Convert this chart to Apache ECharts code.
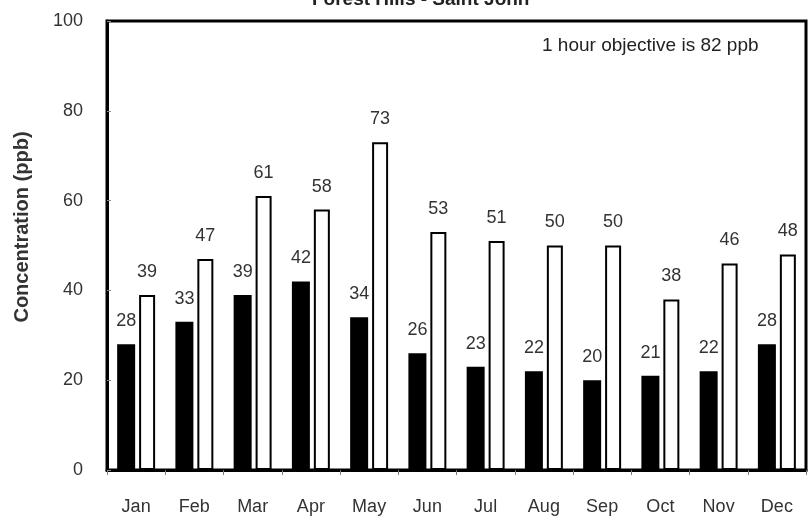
<!DOCTYPE html>
<html><head><meta charset="utf-8">
<script src="https://cdn.jsdelivr.net/npm/echarts@6/dist/echarts.min.js"></script>
<style>html,body{margin:0;padding:0;background:#fff}#c{width:811px;height:523px}</style>
</head><body><div id="c"></div>
<script>
var months = ['Jan','Feb','Mar','Apr','May','Jun','Jul','Aug','Sep','Oct','Nov','Dec'];
var seriesA = [28,33,39,42,34,26,23,22,20,21,22,28];
var seriesB = [39,47,61,58,73,53,51,50,50,38,46,48];
var yTicks = [0,20,40,60,80,100];
var titleText = 'Forest Hills - Saint John';
var noteText = '1 hour objective is 82 ppb';
var yName = 'Concentration (ppb)';

var font = 'Liberation Sans, Arial, sans-serif';
var chart = echarts.init(document.getElementById('c'), null, {renderer:'canvas'});
chart.setOption({
  animation: false,
  backgroundColor: '#fff',
  title: {text: titleText, left: 307, top: -15,
    textStyle: {fontFamily: font, fontSize: 19, fontWeight: 'bold', color: '#222'}},
  graphic: [{type:'text', left: 542, top: 36,
    style: {text: noteText, fontFamily: font, fontSize: 19, fill: '#222'}}],
  grid: {left: 107, top: 21, right: 5, bottom: 53, show: true, borderColor: '#000', borderWidth: 3, backgroundColor: 'transparent'},
  xAxis: {type: 'category', data: months,
    axisLine: {lineStyle: {color: '#000', width: 3}},
    axisTick: {show: true, length: 5, lineStyle: {color: '#777'}},
    axisLabel: {fontFamily: font, fontSize: 18, color: '#333', margin: 28}},
  yAxis: {type: 'value', min: yTicks[0], max: yTicks[yTicks.length-1], interval: 20,
    name: yName, nameLocation: 'middle', nameGap: 75,
    nameTextStyle: {fontFamily: font, fontSize: 20, fontWeight: 'bold', color: '#333', padding: [0,0,0,37]},
    axisLine: {show: true, lineStyle: {color: '#000', width: 3}},
    axisTick: {show: true, inside: true, length: 4, lineStyle: {color: '#888'}},
    splitLine: {show: false},
    axisLabel: {fontFamily: font, fontSize: 18, color: '#333', margin: 24}},
  series: [
    {type: 'bar', data: seriesA, barWidth: 18, barGap: '22%',
      itemStyle: {color: '#000'},
      label: {show: true, position: 'top', distance: 14, fontFamily: font, fontSize: 18, color: '#333'}},
    {type: 'bar', data: seriesB, barWidth: 16,
      itemStyle: {color: '#fff', borderColor: '#000', borderWidth: 2},
      label: {show: true, position: 'top', distance: 14, fontFamily: font, fontSize: 18, color: '#333'}}
  ]
});
</script></body></html>
